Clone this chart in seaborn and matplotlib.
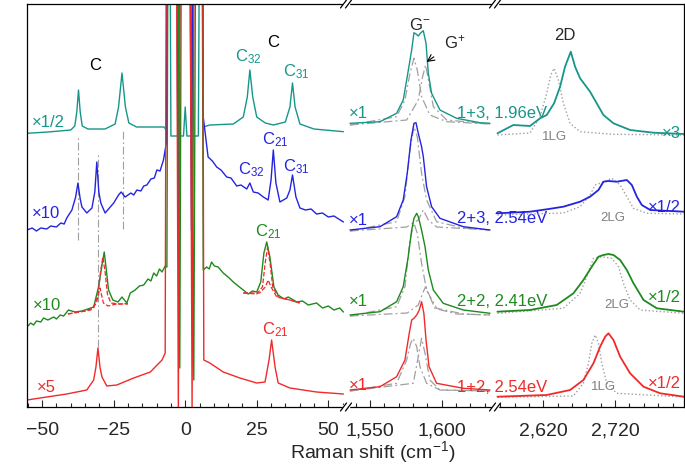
import matplotlib
matplotlib.use("Agg")
import matplotlib.pyplot as plt
import seaborn as sns
from matplotlib.lines import Line2D
from matplotlib.patches import Rectangle
import numpy as np

# %% Data (intensities are offset, arbitrary units)
# ---- left panel: low-frequency region (cm-1) ----
teal_left_x = [-55.3, -48, -40, -38.6, -37.9, -37.3, -36.7, -36.0, -34, -28, -24.5, -23.3, -22.1, -20.9, -19.7,
               -17, -12, -7.4, -6.4, -6.0, -5.5, -5.0, -0.6, 0, 0.6, 4.6, 5.2, 5.7, 6.3, 8.6, 16.8, 20.3, 21.7,
               22.6, 23.6, 25, 28, 30.8, 35, 36.6, 37.5, 38.4, 40.1, 45, 55.3]
teal_left_y = [273.7, 275, 277, 281, 295, 317, 295, 281, 278, 278, 283, 300, 334, 300, 284,
               280, 280, 280, 276, 600, 600, 271, 271, 300, 271, 271, 600, 600, 280, 282, 283, 290, 310,
               337, 310, 290, 284, 282, 285, 300, 324, 300, 283, 278, 275.3]

blue_left_x = [-55.3, -53.5, -52, -50.5, -48.4, -47, -45, -43.5, -42.3, -41.4, -39.6, -38.3, -37.5, -36.7,
               -36.1, -34.4, -32.6, -31.6, -30.9, -30.2, -29.5, -28, -26.5, -25, -23.3, -22.4, -21, -19, -18,
               -16.9, -15.5, -14.5, -13.4, -12, -10.8, -9.9, -8.8, -7.6, -6.6, -6.2, -3.2, -2.4, -1.6, 1.4,
               2.2, 3.0, 6.0, 6.3, 8.0, 9.5, 11, 12.5, 14.5, 16, 18, 19.5, 21.5, 22.6, 23.8, 25.5, 27.3, 29,
               30, 30.8, 31.7, 33.1, 35.5, 36.6, 37.5, 38.7, 40.1, 42, 44, 45.9, 48, 50, 52, 55.3]
blue_left_y = [177, 179, 176, 179, 178, 181, 180, 184, 183, 189, 197, 210, 224, 208,
               200, 194, 199, 215, 245, 215, 204, 194, 199, 204, 212, 215, 210, 214, 212,
               217, 216, 221, 222, 228, 229, 237, 236, 247, 264, 600, 600, 160, 600, 600,
               177, 600, 600, 290, 250, 246, 240, 237, 230, 229, 221, 222, 218, 224, 215, 214, 210, 207,
               227, 257, 224, 205, 209, 217, 232, 210, 199, 197, 198, 193, 194, 190, 191, 185]

green_left_x = [-55.3, -54, -53, -52, -50.5, -49.5, -48, -46, -45, -43.7, -42.5, -40.8, -38.5, -36.1, -34,
                -32, -30.3, -29.2, -28.3, -27.5, -26.8, -25.3, -23.5, -22.1, -20.4, -19.2, -17.5, -16, -14.5,
                -13, -12, -11, -10, -9, -8.1, -7, -6.4, -5.9, -2.7, -1.9, -1.2, 1.6, 3.0, 3.8, 5.8, 6.3,
                7.5, 8.4, 9.2, 10.2, 11.5, 13.3, 15, 16.8, 18.5, 20.3, 22, 23.5, 25, 26.4, 27.5, 28.5, 29.6,
                31, 32.5, 34.5, 36, 39, 41, 43, 45.9, 48, 50, 52, 54, 55.3]
green_left_y = [80, 84, 82, 86, 85, 89, 87, 90, 88, 92, 91, 97, 95, 96, 98,
                100, 120, 140, 155, 135, 117, 107, 105, 110, 104, 114, 117, 121, 122,
                128, 126, 134, 131, 138, 135, 141, 140, 600, 600, 39, 600, 600, 27, 600, 600, 137,
                140, 138, 145, 141, 140, 134, 130, 125, 121, 117, 113, 116, 115, 125, 154, 165, 150,
                120, 112, 108, 110, 105, 106, 102, 104, 99, 101, 97, 99, 95]

red_left_x = [-55.3, -48.4, -41.4, -34.4, -32, -31.2, -30.5, -29.8, -29.1, -27.4, -23.9, -18, -12.2, -8.1, -7,
              -6.5, -3.2, -2.4, -1.6, 1.5, 2.4, 3.3, 6.0, 6.5, 8.6, 13.3, 19.1, 25, 27.9, 29.3, 30.2, 31.4,
              32.5, 36.6, 45.9, 55.3]
red_left_y = [7, 10, 13, 17, 27, 40, 59, 40, 30, 21, 22, 29, 35, 47, 54,
              600, 600, -8, 600, 600, 0, 600, 600, 47, 44, 35, 29, 24, 25, 47, 67, 40,
              24, 19, 15, 13]

# red dashed fits on the green trace
fit_sum_l_x = [-41, -35, -32, -30.5, -29.6, -28.8, -28, -27.2, -26, -23, -20]
fit_sum_l_y = [93, 96, 99, 112, 135, 150, 135, 113, 104, 103, 103.5]
fit_cmp_l_x = [-41, -33, -31, -29.8, -28.6, -27, -24, -20]
fit_cmp_l_y = [93, 97, 104, 119, 104, 101, 103, 103]
fit_sum_r_x = [20.3, 25, 27, 28, 28.8, 29.6, 30.6, 32.5, 36.6, 40]
fit_sum_r_y = [114, 113, 120, 145, 160, 145, 120, 110, 107, 104]
fit_cmp_r_x = [20.3, 26, 28, 29, 30, 32, 36.6, 40]
fit_cmp_r_y = [114, 114, 120, 127, 120, 110, 107, 104]

# gray guide lines
guide_x = [-37.3, -30.5, -21.9]
guide_top = [272, 254, 276]
guide_bottom = [167, 60, 178]

# ---- middle panel: G band ----
teal_g_x = [1536.1, 1557, 1568.6, 1573.2, 1576.0, 1579.1, 1580.7, 1582.1, 1583.7, 1585.3, 1587.2, 1589.1,
            1590.7, 1593.0, 1598.8, 1610.4, 1626.7, 1633.7]
teal_g_y = [283.7, 285.3, 293.7, 307, 330.3, 357, 374.3, 373, 371, 374, 376.3, 363.7,
            333.7, 313.7, 297, 288.7, 284.3, 283.7]
teal_gm_x = [1536.1, 1568.6, 1574.4, 1577.9, 1580.7, 1583.0, 1586.0, 1591.8, 1603.5, 1633.7]
teal_gm_y = [282, 290.3, 307, 333.7, 348.7, 337, 310.3, 292, 285.3, 283]
teal_gp_x = [1536.1, 1575.6, 1583.7, 1586.7, 1588.8, 1591.2, 1594.2, 1603.5, 1633.7]
teal_gp_y = [282, 287, 307, 330.3, 342, 323.7, 300.3, 287, 283]

blue_g_x = [1536.1, 1557, 1568.6, 1573.2, 1576.0, 1578.6, 1580.7, 1582.1, 1583.7, 1586.0, 1587.2, 1589.5,
            1593.0, 1598.8, 1615.1, 1633.7]
blue_g_y = [177, 180.3, 190.3, 207, 233.7, 267, 283.7, 284.3, 273.7, 260.3, 250.3, 220.3,
            200.3, 188.7, 180.3, 177]
blue_gm_x = [1536.1, 1568.6, 1574.4, 1577.9, 1580.7, 1583.0, 1586.0, 1589.5, 1596.5, 1615.1, 1633.7]
blue_gm_y = [176, 185.3, 210.3, 257, 280.3, 270.3, 233.7, 207, 185.3, 179, 177]
blue_gp_x = [1536.1, 1575.6, 1583.7, 1587.2, 1590.7, 1596.5, 1633.7]
blue_gp_y = [176, 180, 187, 197, 187, 180, 177]

green_g_x = [1536.1, 1557, 1568.6, 1573.2, 1576.7, 1579.1, 1580.7, 1582.6, 1583.7, 1586.0, 1588.4, 1590.7,
             1594.2, 1601.1, 1615.1, 1633.7]
green_g_y = [92, 95.3, 105.3, 120.3, 150.3, 177, 188.7, 193.7, 190.3, 177, 160.3, 137,
             117, 103.7, 97, 93.7]
green_gm_x = [1536.1, 1568.6, 1574.4, 1577.9, 1580.7, 1583.0, 1586.0, 1589.5, 1596.5, 1615.1, 1633.7]
green_gm_y = [91, 100.3, 120.3, 167, 183.7, 173.7, 143.7, 117, 98.7, 93, 92]
green_gp_x = [1536.1, 1576.0, 1583.7, 1586.7, 1588.8, 1591.2, 1595.3, 1610.4, 1633.7]
green_gp_y = [91, 94, 102, 113.7, 120.3, 112, 98.7, 93, 92]

red_g_x = [1536.1, 1557, 1568.6, 1574.4, 1577.4, 1579.1, 1580.7, 1582.6, 1584.4, 1586.0, 1587.6, 1589.1,
           1591.2, 1596.5, 1615.1, 1633.7]
red_g_y = [17, 20.3, 30.3, 47, 73.7, 87, 88.7, 92, 97, 105.3, 93.7, 67,
           40.3, 23.7, 18.7, 17]
red_gm_x = [1536.1, 1568.6, 1575.6, 1578.4, 1580.2, 1582.6, 1584.9, 1589.5, 1598.8, 1633.7]
red_gm_y = [16, 23.7, 47, 63.7, 68.7, 60.3, 40.3, 23.7, 17, 16]
red_gp_x = [1536.1, 1580.2, 1583.7, 1586.0, 1588.4, 1591.8, 1598.8, 1633.7]
red_gp_y = [16, 23.7, 50.3, 68.7, 53.7, 27, 17, 16]

# ---- right panel: 2D band ----
teal_2d_x = [2556, 2578.2, 2601.4, 2615.4, 2624.7, 2634.9, 2643.3, 2650.2, 2658.2, 2664.2, 2671.2, 2685.1,
             2703.7, 2717.7, 2740.9, 2773.4, 2816]
teal_2d_y = [273.7, 282, 281, 288.7, 292, 303.7, 320.3, 340.3, 355.3, 340.3, 328.7, 315.3,
             292, 283.7, 277, 274.3, 273]
teal_ref_x = [2556, 2601.4, 2615.4, 2624.7, 2630.3, 2634.9, 2640.9, 2647.9, 2657.2, 2671.2, 2717.7, 2816]
teal_ref_y = [272, 274, 290.3, 313.7, 332, 338.7, 327, 303.7, 283.7, 275.3, 272.7, 272]

blue_2d_x = [2556, 2601.4, 2624.7, 2647.9, 2671.2, 2685.1, 2696.8, 2703.7, 2710.7, 2722.4, 2736.3, 2743.3,
             2750.3, 2757.2, 2768.9, 2816]
blue_2d_y = [193.7, 195.3, 197.7, 200.3, 205.3, 210.3, 217, 225.3, 226, 225.3, 227, 222,
             210.3, 202, 197, 195.3]
blue_ref_x = [2556, 2647.9, 2671.2, 2685.1, 2692.1, 2699.1, 2715.4, 2727.0, 2736.3, 2745.6, 2764.2, 2816]
blue_ref_y = [192, 194, 200.3, 212, 222, 223.7, 228.7, 222, 210.3, 198.7, 193.7, 193]

green_2d_x = [2556, 2601.4, 2638.6, 2661.9, 2675.8, 2687.5, 2696.8, 2703.7, 2710.7, 2717.7, 2727.0, 2736.3,
              2745.6, 2759.6, 2778.1, 2816]
green_2d_y = [95.3, 97, 102, 113.7, 127, 140.3, 150.3, 152, 153, 152, 147, 137,
              123.7, 107, 98.7, 95.3]
green_ref_x = [2556, 2647.9, 2671.2, 2680.5, 2689.8, 2701.4, 2715.4, 2724.7, 2731.6, 2740.9, 2754.9, 2816]
green_ref_y = [93.7, 98.7, 113.7, 130.3, 148.7, 150.3, 148.7, 140.3, 123.7, 107, 97, 93.7]

red_2d_x = [2556, 2624.7, 2657.2, 2675.8, 2689.8, 2699.1, 2706.1, 2710.7, 2717.7, 2727.0, 2740.9, 2759.6,
            2782.8, 2816]
red_2d_y = [10.3, 12, 17, 27, 43.7, 60.3, 70.3, 73.7, 67, 50.3, 33.7, 20.3, 13.7, 10.3]
red_ref_x = [2556, 2661.9, 2675.8, 2682.8, 2687.5, 2692.1, 2696.8, 2701.4, 2708.4, 2722.4, 2816]
red_ref_y = [9.7, 11, 23.7, 43.7, 63.7, 72, 63.7, 43.7, 23.7, 13.7, 10]

left_ticks = [-50, -25, 0, 25, 50]
mid_ticks = [1550, 1600]
right_ticks = [2620, 2720]

teal = '#16968a'
blue = '#2424e0'
green = '#1e8a1e'
red = '#f02a2a'
gray = '#a0a0a0'

# %% Style
sns.set_style("ticks")
plt.rcParams['font.family'] = ['Liberation Sans', 'DejaVu Sans']
plt.rcParams['mathtext.fontset'] = 'custom'
plt.rcParams['mathtext.rm'] = 'Liberation Sans'
plt.rcParams['mathtext.it'] = 'Liberation Sans:italic'
plt.rcParams['mathtext.bf'] = 'Liberation Sans:bold'

W, H = 685, 467
fig = plt.figure(figsize=(W / 100, H / 100), dpi=100)


def panel(x0, x1):
    ax = fig.add_axes([x0 / W, (H - 407) / H, (x1 - x0) / W, 403 / H])
    ax.set_facecolor('none')
    ax.set_ylim(0, 403)
    ax.set_yticks([])
    for s in ax.spines.values():
        s.set_linewidth(0.9)
        s.set_color('black')
    return ax


def trace(ax, xs, ys, color, ls='-', lw=1.0):
    sns.lineplot(x=xs, y=ys, ax=ax, color=color, linestyle=ls, lw=lw,
                 estimator=None, sort=False, legend=False)


ax1 = panel(27, 346)
ax2 = panel(346, 495)
ax3 = panel(495, 684)

dashdot = (0, (7, 2.5, 1.5, 2.5))

# left panel
ax1.vlines(guide_x, guide_bottom, guide_top, colors=gray, linestyles=[dashdot], lw=0.8)
trace(ax1, teal_left_x, teal_left_y, teal)
trace(ax1, blue_left_x, blue_left_y, blue)
trace(ax1, green_left_x, green_left_y, green)
trace(ax1, red_left_x, red_left_y, red)
trace(ax1, fit_sum_l_x, fit_sum_l_y, red, ls='--', lw=0.9)
trace(ax1, fit_cmp_l_x, fit_cmp_l_y, red, ls='--', lw=0.9)
trace(ax1, fit_sum_r_x, fit_sum_r_y, red, ls='--', lw=0.9)
trace(ax1, fit_cmp_r_x, fit_cmp_r_y, red, ls='--', lw=0.9)

# middle panel
for xs, ys in [(teal_gm_x, teal_gm_y), (teal_gp_x, teal_gp_y), (blue_gm_x, blue_gm_y),
               (blue_gp_x, blue_gp_y), (green_gm_x, green_gm_y), (green_gp_x, green_gp_y),
               (red_gm_x, red_gm_y), (red_gp_x, red_gp_y)]:
    trace(ax2, xs, ys, gray, ls=dashdot, lw=0.9)
trace(ax2, teal_g_x, teal_g_y, teal)
trace(ax2, blue_g_x, blue_g_y, blue)
trace(ax2, green_g_x, green_g_y, green)
trace(ax2, red_g_x, red_g_y, red)

# right panel
for xs, ys in [(teal_ref_x, teal_ref_y), (blue_ref_x, blue_ref_y),
               (green_ref_x, green_ref_y), (red_ref_x, red_ref_y)]:
    trace(ax3, xs, ys, gray, ls=':', lw=1.0)
trace(ax3, teal_2d_x, teal_2d_y, teal, lw=1.3)
trace(ax3, blue_2d_x, blue_2d_y, blue, lw=1.3)
trace(ax3, green_2d_x, green_2d_y, green, lw=1.3)
trace(ax3, red_2d_x, red_2d_y, red, lw=1.3)

# axes limits, ticks, spines
ax1.set_xlim(-55.3, 56.2)
ax2.set_xlim(1533.3, 1637.2)
ax3.set_xlim(2552.6, 2816)


def fmt(v):
    return f"{v:,}".replace('-', '\u2212')


for ax, major, minor in [(ax1, left_ticks, np.arange(-55, 56, 5)),
                         (ax2, mid_ticks, np.arange(1540, 1631, 10)),
                         (ax3, right_ticks, np.arange(2560, 2801, 20))]:
    ax.set_xticks(major, [fmt(v) for v in major])
    ax.set_xticks(minor, minor=True)
    ax.tick_params(axis='x', which='major', direction='in', length=5, width=0.8, labelsize=14, pad=11)
    ax.tick_params(axis='x', which='minor', direction='in', length=3, width=0.8)
    ax.set_xlabel('')
    ax.set_ylabel('')

ax1.spines['right'].set_visible(False)
ax2.spines['left'].set_visible(False)
ax2.spines['right'].set_visible(False)
ax3.spines['left'].set_visible(False)

ax1.set_ylabel('Intenstiy (a.u.)', fontsize=14, labelpad=3)
fig.text(373 / W, 1 - 452 / H, 'Raman shift (cm$^{-1}$)', ha='center', va='center', fontsize=14)

# %% Annotations
fs = 12
ax1.text(-53.6, 285, '\u00d71/2', color=teal, fontsize=fs, va='center')
ax1.text(-53.6, 194, '\u00d710', color=blue, fontsize=fs, va='center')
ax1.text(-53.3, 102, '\u00d710', color=green, fontsize=fs, va='center')
ax1.text(-51.9, 20, '\u00d75', color=red, fontsize=fs, va='center')
ax1.text(-31.4, 342, 'C', color='black', fontsize=fs, ha='center', va='center')
ax1.text(30.8, 365, 'C', color='black', fontsize=fs, ha='center', va='center')
ax1.text(22.0, 350, 'C$_{32}$', color=teal, fontsize=fs, ha='center', va='center')
ax1.text(38.7, 335, 'C$_{31}$', color=teal, fontsize=fs, ha='center', va='center')
ax1.text(31.4, 267, 'C$_{21}$', color=blue, fontsize=fs, ha='center', va='center')
ax1.text(23.2, 237, 'C$_{32}$', color=blue, fontsize=fs, ha='center', va='center')
ax1.text(38.7, 240, 'C$_{31}$', color=blue, fontsize=fs, ha='center', va='center')
ax1.text(29.0, 175, 'C$_{21}$', color=green, fontsize=fs, ha='center', va='center')
ax1.text(31.4, 77, 'C$_{21}$', color=red, fontsize=fs, ha='center', va='center')

for y, c in [(294, teal), (187, blue), (105, green), (22, red)]:
    ax2.text(1535, y, '\u00d71', color=c, fontsize=fs, va='center')
for y, c, s in [(294, teal, '1+3, 1.96eV'), (189, blue, '2+3, 2.54eV'),
                (105, green, '2+2, 2.41eV'), (20, red, '1+2, 2.54eV')]:
    ax2.text(1610.7, y, s, color=c, fontsize=fs, va='center', clip_on=False)
ax2.text(1584.9, 382, 'G$^{-}$', fontsize=fs, ha='center', va='center')
ax2.annotate('G$^{+}$', xy=(1589.5, 345), xytext=(1609, 365), fontsize=fs, ha='center', va='center',
             arrowprops=dict(arrowstyle='->', color='black', lw=0.8, shrinkA=6, shrinkB=0))

ax3.text(2650.3, 372, '2D', fontsize=fs, ha='center', va='center')
for x, y, s in [(2634.9, 270, '1LG'), (2717, 189, '2LG'), (2722.8, 102, '2LG'), (2703.3, 20, '1LG')]:
    ax3.text(x, y, s, color='#808080', fontsize=9.5, ha='center', va='center')
for y, c, s in [(274, teal, '\u00d73'), (200, blue, '\u00d71/2'), (109, green, '\u00d71/2'), (24, red, '\u00d71/2')]:
    ax3.text(2812, y, s, color=c, fontsize=fs, ha='right', va='center')


# %% Axis break marks
def brk(xpx, ypx):
    fig.add_artist(Rectangle(((xpx - 3) / W, (H - ypx - 2) / H), 6 / W, 4 / H,
                             transform=fig.transFigure, color='white', zorder=10))
    for dx in (-2.5, 2.5):
        fig.add_artist(Line2D([(xpx + dx - 3) / W, (xpx + dx + 3) / W],
                              [(H - ypx - 4) / H, (H - ypx + 4) / H],
                              transform=fig.transFigure, color='black', lw=0.9, zorder=11))


for xb in (346, 495):
    brk(xb, 4)
    brk(xb, 407)

fig.savefig('out.png', dpi=100)
